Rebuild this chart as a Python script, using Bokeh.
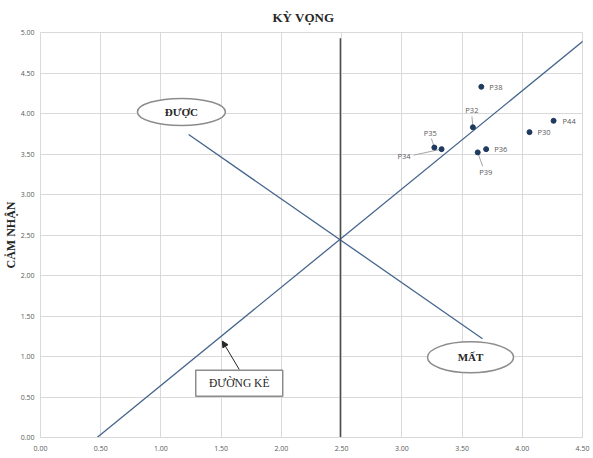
from bokeh.plotting import figure
from bokeh.models import Range1d, SingleIntervalTicker, NumeralTickFormatter, Arrow, NormalHead, ColumnDataSource
from bokeh.core.properties import value
from bokeh.embed import file_html
from bokeh.resources import INLINE

SERIF = 'Liberation Serif'
SANS = 'Open Sans'

# DATA
ids = ['P30', 'P32', 'P34', 'P35', 'P36', 'P38', 'P39', 'P44']
ky_vong = [4.06, 3.59, 3.33, 3.27, 3.70, 3.66, 3.63, 4.26]
cam_nhan = [3.77, 3.83, 3.56, 3.58, 3.56, 4.33, 3.52, 3.91]

# reference lines
duong_ke_x = [0.47, 4.51]
duong_ke_y = [0.0, 4.90]
duoc_mat_x = [1.23, 3.67]
duoc_mat_y = [3.74, 1.22]
vertical_x = [2.49, 2.49]
vertical_y = [0.0, 4.93]

# label placement (screen px, y up) and leader ends
lbl_dx = [8, -1, -31, -4, 8, 8, 8, 9]
lbl_dy = [0, 17, -7, 15, 0, 0, -20, 0]
lbl_align = ['left', 'center', 'right', 'center', 'left', 'left', 'center', 'left']
lead_dx = [0, -1, -28, -3, 0, 0, 5, 0]
lead_dy = [0, 11, -6, 9, 0, 0, -14, 0]

W, H = 593, 458
B_LEFT, B_RIGHT, B_TOP, B_BOTTOM = 38, 11, 31, 21
X_END, Y_END = 4.5, 5.0

p = figure(
    width=W,
    height=H,
    x_range=Range1d(0, X_END),
    y_range=Range1d(0, Y_END),
    title='KỲ VỌNG',
    y_axis_label='CẢM NHẬN',
    toolbar_location=None,
    tools='',
    output_backend='svg',
    min_border_left=B_LEFT,
    min_border_right=B_RIGHT,
    min_border_top=B_TOP,
    min_border_bottom=B_BOTTOM,
)

p.title.text_font = SERIF
p.title.text_font_size = '13px'
p.title.text_font_style = 'bold'
p.title.text_color = '#262626'
p.title.align = 'left'
p.title.offset = 232
p.title.standoff = 15

for ax in (p.xaxis, p.yaxis):
    ax.ticker = SingleIntervalTicker(interval=0.5)
    ax.formatter = NumeralTickFormatter(format='0.00')
    ax.major_tick_line_color = None
    ax.minor_tick_line_color = None
    ax.major_tick_out = 0
    ax.major_tick_in = 0
    ax.major_label_text_font = SANS
    ax.major_label_text_font_size = '7px'
    ax.major_label_text_color = '#595959'
    ax.axis_line_color = '#d9d9d9'
    ax.major_label_standoff = 4

p.yaxis.major_label_standoff = 2
p.yaxis.axis_label_text_font = SERIF
p.yaxis.axis_label_text_font_style = 'bold'
p.yaxis.axis_label_text_font_size = '12px'
p.yaxis.axis_label_text_color = '#262626'
p.yaxis.axis_label_standoff = 0

p.grid.ticker = SingleIntervalTicker(interval=0.5)
p.grid.grid_line_color = '#d9d9d9'
p.outline_line_color = '#d9d9d9'

# reference lines
p.line(duong_ke_x, duong_ke_y, color='#44658c', line_width=1.3)
p.line(duoc_mat_x, duoc_mat_y, color='#44658c', line_width=1.3)
p.line(vertical_x, vertical_y, color='#4d4d4d', line_width=1.5)

# leader lines
sx = (W - B_LEFT - B_RIGHT) / X_END
sy = (H - B_TOP - B_BOTTOM) / Y_END
lead_x1 = [x + d / sx for x, d in zip(ky_vong, lead_dx)]
lead_y1 = [y + d / sy for y, d in zip(cam_nhan, lead_dy)]
p.segment(x0=ky_vong, y0=cam_nhan, x1=lead_x1, y1=lead_y1, color='#a6a6a6', line_width=1)

src = ColumnDataSource(data=dict(
    x=ky_vong, y=cam_nhan, id=ids,
    dx=lbl_dx, dy=[-d for d in lbl_dy], align=lbl_align,
))
p.scatter('x', 'y', source=src, size=5, color='#1f3a5f')
p.text('x', 'y', text='id', source=src, x_offset='dx', y_offset='dy',
       text_align='align', text_baseline='middle',
       text_font=value(SANS), text_font_size='7.5px', text_color='#595959')

# callouts
p.ellipse(x=[1.17], y=[4.02], width=88, height=27, width_units='screen', height_units='screen',
          fill_color='white', line_color='#8c8c8c', line_width=1.5)
p.text(x=[1.17], y=[4.02], text=['ĐƯỢC'], text_align='center', text_baseline='middle',
       text_font=value(SERIF), text_font_style='bold', text_font_size='11px', text_color='#262626')

p.ellipse(x=[3.57], y=[0.99], width=86, height=31, width_units='screen', height_units='screen',
          fill_color='white', line_color='#8c8c8c', line_width=1.5)
p.text(x=[3.57], y=[0.99], text=['MẤT'], text_align='center', text_baseline='middle',
       text_font=value(SERIF), text_font_style='bold', text_font_size='11px', text_color='#262626')

p.rect(x=[1.65], y=[0.67], width=87, height=26, width_units='screen', height_units='screen',
       fill_color='white', line_color='#8c8c8c', line_width=1.5)
p.text(x=[1.65], y=[0.67], text=['ĐƯỜNG KẺ'], text_align='center', text_baseline='middle',
       text_font=value(SERIF), text_font_size='11.5px', text_color='#262626')

p.add_layout(Arrow(end=NormalHead(size=6, fill_color='#262626', line_color='#262626'),
                   x_start=1.65, y_start=0.84, x_end=1.51, y_end=1.19,
                   line_color='#262626', line_width=1))

open('out.html', 'w').write(file_html(p, INLINE))
